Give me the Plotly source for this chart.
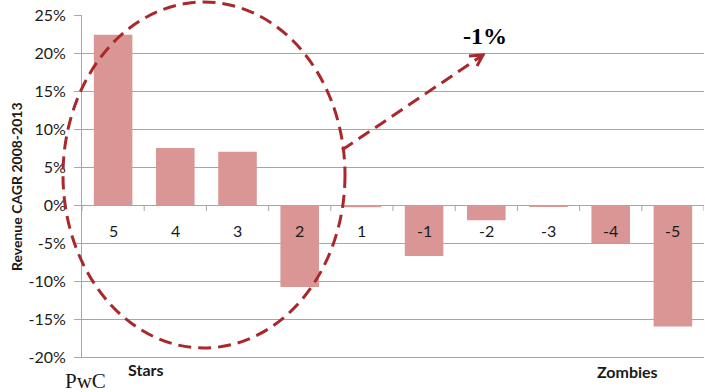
import plotly.graph_objects as go

categories = ["5", "4", "3", "2", "1", "-1", "-2", "-3", "-4", "-5"]
cagr = [22.4, 7.5, 7.0, -10.8, -0.3, -6.7, -2.0, -0.2, -5.0, -16.0]
y_ticks = [-20, -15, -10, -5, 0, 5, 10, 15, 20, 25]
y_tick_labels = [f"{v}%" for v in y_ticks]

W, H = 705, 392
L, R, T, B = 82, 1, 15, 35
pw, ph = W - L - R, H - T - B

def px(x):
    return (x - L) / pw

def py(y):
    return (H - B - y) / ph

bar_color = "#D99694"
dash_color = "#A8282C"
grid_color = "#A6A6A6"
text_color = "#1a1a1a"
font_main = "Lato, Open Sans, sans-serif"
font_serif = "Liberation Serif, serif"
dash_style = "13px,7px"

xs = list(range(len(categories)))
fig = go.Figure()
fig.add_trace(go.Bar(x=xs, y=cagr, marker_color=bar_color, width=0.62,
                     marker_line_width=0, showlegend=False))

fig.update_layout(
    width=W, height=H,
    margin=dict(l=L, r=R, t=T, b=B),
    plot_bgcolor="white", paper_bgcolor="white",
    xaxis=dict(range=[-0.5, len(categories) - 0.5], showticklabels=False,
               showgrid=False, zeroline=False, showline=True,
               linecolor=grid_color, linewidth=1, ticks=""),
    yaxis=dict(range=[-20, 25], tickvals=y_ticks, ticktext=y_tick_labels,
               showgrid=True, gridcolor=grid_color, gridwidth=1,
               zeroline=True, zerolinecolor=grid_color, zerolinewidth=1,
               showline=True, linecolor=grid_color, linewidth=1,
               ticks="outside", ticklen=7, tickcolor=grid_color,
               ticklabelstandoff=5,
               tickfont=dict(family=font_main, size=16, color=text_color)),
)

def note(x, y, text, size, family=font_main, color=text_color, **kw):
    fig.add_annotation(x=px(x), y=py(y), xref="paper", yref="paper", text=text,
                       showarrow=False, xanchor=kw.pop("xanchor", "center"),
                       yanchor="middle",
                       font=dict(family=family, size=size, color=color), **kw)

# category labels at the zero line
for x, c in zip(xs, categories):
    fig.add_annotation(x=x, y=0, xref="x", yref="y", text=c, showarrow=False,
                       yshift=-25, xanchor="center", yanchor="middle",
                       font=dict(family=font_main, size=16, color=text_color))

# boundary tick marks on the zero line
for i in range(len(categories) + 1):
    fig.add_shape(type="line", xref="x", yref="y", x0=i - 0.5, x1=i - 0.5,
                  ysizemode="pixel", yanchor=0, y0=0, y1=-6,
                  line=dict(color=grid_color, width=1))

note(16, 187, "<b>Revenue CAGR 2008-2013</b>", 14, textangle=-90)
note(145, 369, "<b>Stars</b>", 16)
note(627, 371, "<b>Zombies</b>", 16)
note(63, 381, "PwC", 21, family=font_serif, xanchor="left")
note(485, 36, "<b>-1%</b>", 24, family=font_serif, color="#000000")

# dashed ellipse
fig.add_shape(type="circle", xref="paper", yref="paper",
              x0=px(63), x1=px(345), y0=py(348), y1=py(2),
              line=dict(color=dash_color, width=3, dash=dash_style))
# dashed arrow
fig.add_shape(type="line", xref="paper", yref="paper",
              x0=px(342), y0=py(150), x1=px(483), y1=py(55),
              line=dict(color=dash_color, width=3, dash=dash_style))
fig.add_shape(type="path", xref="paper", yref="paper",
              path=f"M {px(469)},{py(56)} L {px(483)},{py(55)} L {px(477)},{py(66)}",
              line=dict(color=dash_color, width=3))

fig.write_html("out.html")
